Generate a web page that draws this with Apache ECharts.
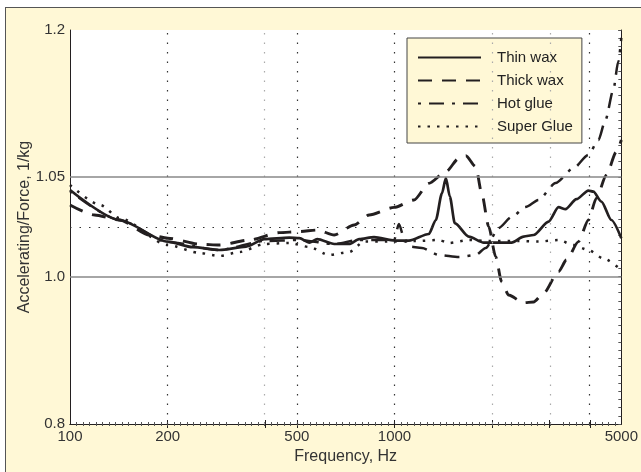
<!DOCTYPE html>
<html>
<head>
<meta charset="utf-8">
<script src="https://cdn.jsdelivr.net/npm/echarts@6/dist/echarts.min.js"></script>
<style>
  html, body { margin: 0; padding: 0; background: #fff; }
  #frame { position: absolute; left: 5px; top: 7px; width: 700px; height: 600px;
           background: #fff8d6; border-top: 1px solid #555; border-left: 1px solid #555; }
  #chart { position: absolute; left: 0; top: 0; width: 641px; height: 472px; }
</style>
</head>
<body>
<div id="frame"></div>
<div id="chart"></div>
<script>
const seriesNames = ['Thin wax', 'Thick wax', 'Hot glue', 'Super Glue'];

const thinWaxFreq = [100, 142, 200, 239, 289, 349, 397, 474, 509, 546, 578, 652, 725, 778, 865, 1003, 1108, 1276, 1341, 1400, 1440, 1481, 1534, 1694, 1884, 2296, 2500, 2683, 2984, 3202, 3365, 3637, 3958, 4102, 4341, 4659, 5000];
const thinWaxVal = [1.0435, 1.0285, 1.0177, 1.0149, 1.0135, 1.0152, 1.0189, 1.0197, 1.0194, 1.0172, 1.0189, 1.0165, 1.0165, 1.0189, 1.0199, 1.0182, 1.0182, 1.0215, 1.0285, 1.0418, 1.0494, 1.0402, 1.0269, 1.0202, 1.0172, 1.0172, 1.0202, 1.021, 1.0277, 1.0349, 1.0339, 1.0389, 1.0432, 1.0427, 1.0377, 1.0285, 1.0194];

const thickWaxFreq = [100, 119, 142, 176, 200, 251, 289, 357, 442, 509, 578, 652, 751, 835, 997, 1148, 1276, 1440, 1579, 1659, 1780, 1857, 1951, 2050, 2139, 2247, 2500, 2683, 2880, 3202, 3388, 3689, 3958, 4190, 4497, 4827, 5000];
const thickWaxVal = [1.036, 1.031, 1.0285, 1.021, 1.0194, 1.0164, 1.016, 1.0185, 1.0222, 1.0227, 1.0235, 1.021, 1.026, 1.031, 1.0348, 1.0385, 1.0468, 1.0554, 1.0691, 1.0717, 1.0605, 1.0418, 1.0252, 1.0102, 0.9936, 0.9755, 0.965, 0.966, 0.9778, 1.0027, 1.0085, 1.0177, 1.0285, 1.0394, 1.052, 1.0758, 1.0878];

const hotGlueFreq = [100, 142, 200, 289, 397, 509, 652, 778, 897, 997, 1032, 1070, 1108, 1215, 1370, 1579, 1780, 1910, 2094, 2296, 2535, 2780, 3135, 3561, 3958, 4250, 4466, 4725, 4895, 5000];
const hotGlueVal = [1.043, 1.0285, 1.0175, 1.0135, 1.018, 1.0185, 1.0165, 1.0185, 1.0185, 1.0185, 1.0265, 1.0195, 1.0152, 1.0145, 1.011, 1.010, 1.011, 1.0145, 1.0245, 1.030, 1.035, 1.0385, 1.047, 1.059, 1.0725, 1.0878, 1.108, 1.139, 1.168, 1.192];

const superGlueFreq = [100, 124, 142, 200, 251, 289, 333, 397, 474, 546, 629, 725, 806, 997, 1165, 1370, 1471, 1694, 1951, 2413, 2780, 3202, 3561, 3958, 4402, 5000];
const superGlueVal = [1.046, 1.036, 1.0295, 1.016, 1.012, 1.0105, 1.0125, 1.0165, 1.017, 1.015, 1.011, 1.0125, 1.0177, 1.0177, 1.018, 1.0185, 1.017, 1.0185, 1.018, 1.018, 1.0177, 1.0185, 1.016, 1.0135, 1.0093, 1.0035];

const xLabelFreqs = [100, 200, 500, 1000, 5000];
const xTickFreqs = [200, 400, 500, 1000, 2000, 3000, 4000];
const gridFreqDark = [200, 500, 1000, 4000];
const gridFreqLight = [400, 2000, 3000];
const yLabelVals = [0.8, 1.0, 1.05, 1.2];
const yLabelText = ['0.8', '1.0', '1.05', '1.2'];
const yGridSolid = [1.0, 1.05];
const yGridDotted = [1.025];

// the original y scale is not linear: it is piecewise linear between these knots
const yKnots = [0.8, 1.0, 1.025, 1.05, 1.2];
const yKnotPos = [0, 147, 197, 247, 394];
function yMap(v) {
  for (let i = 0; i < yKnots.length - 1; i++) {
    if (v <= yKnots[i + 1] || i === yKnots.length - 2) {
      const t = (v - yKnots[i]) / (yKnots[i + 1] - yKnots[i]);
      return yKnotPos[i] + t * (yKnotPos[i + 1] - yKnotPos[i]);
    }
  }
}
const lg = Math.log10;
const xMin = lg(100), xMax = lg(5000);
const yMax = yKnotPos[yKnotPos.length - 1];

function pairs(fs, vs) { return fs.map((f, i) => [lg(f), yMap(vs[i])]); }

const ink = '#231f20';
const font = 'Liberation Sans, Arial, Helvetica, sans-serif';

function curve(name, fs, vs, width, type) {
  return {
    name: name, type: 'line', data: pairs(fs, vs), symbol: 'none', z: 3,
    smooth: 0.25, smoothMonotone: 'x', animation: false,
    lineStyle: { color: ink, width: width, type: type, cap: 'butt' },
    itemStyle: { color: ink }
  };
}

const gridLines = [];
gridFreqDark.forEach(f => gridLines.push({ xAxis: lg(f), lineStyle: { color: '#333', type: [1.5, 8], width: 1.2 } }));
gridFreqLight.forEach(f => gridLines.push({ xAxis: lg(f), lineStyle: { color: '#aaa', type: [1.5, 8], width: 1.2 } }));
yGridSolid.forEach(v => gridLines.push({ yAxis: yMap(v), lineStyle: { color: '#888', type: 'solid', width: 1.6 } }));
yGridDotted.forEach(v => gridLines.push({ yAxis: yMap(v), lineStyle: { color: '#333', type: [1.5, 8], width: 1.2 } }));

const chart = echarts.init(document.getElementById('chart'));
chart.setOption({
  backgroundColor: 'transparent',
  animation: false,
  textStyle: { fontFamily: font },
  grid: { left: 70, right: 18, top: 30, bottom: 48, show: true, backgroundColor: '#fff', borderWidth: 0 },
  legend: {
    data: seriesNames, orient: 'vertical', left: 407, top: 38,
    padding: [12, 9, 9, 10], itemWidth: 63, itemHeight: 14, itemGap: 8,
    backgroundColor: '#fff8d6', borderColor: '#444', borderWidth: 1,
    itemStyle: { opacity: 0 },
    textStyle: { fontSize: 15, color: '#222', fontFamily: font, padding: [0, 0, 0, 11] }
  },
  xAxis: [{
    type: 'value', min: xMin, max: xMax, interval: 0.5, position: 'bottom',
    axisLine: { lineStyle: { color: ink, width: 1 } },
    axisTick: { inside: true, length: 4, customValues: xTickFreqs.map(lg), lineStyle: { color: ink } },
    minorTick: { show: true, splitNumber: 25, length: 2, lineStyle: { color: '#555' } },
    axisLabel: { customValues: xLabelFreqs.map(lg), formatter: v => String(Math.round(Math.pow(10, v))),
                 fontSize: 15, color: '#333', margin: 5 },
    splitLine: { show: false },
    name: 'Frequency, Hz', nameLocation: 'middle', nameGap: 23,
    nameTextStyle: { fontSize: 16, color: '#333' }
  }, {
    type: 'value', min: xMin, max: xMax, interval: 0.5, position: 'top',
    axisLine: { lineStyle: { color: ink, width: 1 } },
    axisTick: { inside: true, length: 4, customValues: xTickFreqs.map(lg), lineStyle: { color: ink } },
    minorTick: { show: true, splitNumber: 25, length: 2, lineStyle: { color: '#555' } },
    axisLabel: { show: false }, splitLine: { show: false }
  }],
  yAxis: [{
    type: 'value', min: 0, max: yMax, position: 'left',
    axisLine: { show: true, lineStyle: { color: ink, width: 1 } },
    axisTick: { show: false },
    axisLabel: { customValues: yLabelVals.map(yMap),
                 formatter: v => { const i = yLabelVals.findIndex(y => Math.abs(yMap(y) - v) < 0.5); return i < 0 ? '' : yLabelText[i]; },
                 fontSize: 15, color: '#333', margin: 5 },
    splitLine: { show: false },
    name: 'Accelerating/Force, 1/kg', nameLocation: 'middle', nameGap: 37, nameRotate: 90,
    nameMoveOverlap: false,
    nameTextStyle: { fontSize: 16, color: '#333' }
  }, {
    type: 'value', min: 0, max: yMax, interval: yMax / 48, position: 'right',
    axisLine: { show: true, lineStyle: { color: ink, width: 1 } },
    axisTick: { inside: true, length: 3, lineStyle: { color: '#555' } },
    axisLabel: { show: false }, splitLine: { show: false }
  }],
  series: [
    { name: 'grid', type: 'line', data: [], z: 1, silent: true,
      markLine: { silent: true, symbol: ['none', 'none'], label: { show: false }, animation: false, data: gridLines } },
    curve(seriesNames[0], thinWaxFreq, thinWaxVal, 2.7, 'solid'),
    curve(seriesNames[1], thickWaxFreq, thickWaxVal, 2.9, [14, 10]),
    curve(seriesNames[2], hotGlueFreq, hotGlueVal, 2.5, [3, 8, 15, 8]),
    curve(seriesNames[3], superGlueFreq, superGlueVal, 2.5, [2.5, 7])
  ]
});
</script>
</body>
</html>
